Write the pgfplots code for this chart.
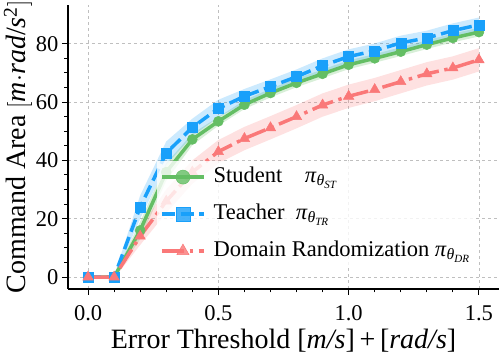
\documentclass[border=0pt]{standalone}
\usepackage{fontspec}
\setmainfont{Liberation Serif}
\usepackage{pgfplots}
\pgfplotsset{compat=1.18}
\usepgfplotslibrary{fillbetween}

\definecolor{cgreen}{RGB}{100,190,100}
\definecolor{cblue}{RGB}{25,160,250}
\definecolor{cred}{RGB}{250,120,120}

\begin{document}
\begin{tikzpicture}
\begin{axis}[
  scale only axis, width=431pt, height=284pt,
  xmin=-0.077, xmax=1.577, ymin=-4.1, ymax=93.3,
  axis lines=left, axis line style={-, line width=1.6pt},
  tick align=outside,
  xtick={0,0.5,1,1.5}, minor x tick num=4,
  ytick={0,20,40,60,80}, minor y tick num=3,
  major tick length=6pt, minor tick length=3.5pt,
  tick style={black, line width=1pt},
  grid=major, major grid style={dashed, gray!50, line width=0.6pt},
  /pgf/number format/assume math mode=true,
  ticklabel style={font=\fontsize{22.5}{24}\selectfont},
  xticklabel style={yshift=-7pt, /pgf/number format/.cd, fixed, fixed zerofill, precision=1},
  label style={font=\fontsize{28}{30}\selectfont},
  xlabel={Error Threshold [\textit{m/s}]\,+\,[\textit{rad/s}]},
  xlabel style={at={(rel axis cs:0.5,0)}, anchor=center, yshift=-52pt},
  ylabel={Command Area $\big[$\textit{m}$\cdot$\textit{rad}/\textit{s}\textsuperscript{2}$\big]$},
  ylabel style={at={(rel axis cs:0,0.5)}, anchor=center, rotate=0, yshift=50pt},
  legend cell align=left,
  legend image code/.code={\draw[mark repeat=2, mark phase=2, #1] plot coordinates {(0pt,0pt) (21pt,0pt) (42pt,0pt)};},
  legend image post style={mark size=7pt},
  legend style={at={(rel axis cs:0.2065,0.451)}, anchor=north west, draw=none,
    fill=white, fill opacity=0.8, text opacity=1,
    font=\fontsize{22.5}{26}\selectfont, row sep=11pt, column sep=6pt, inner sep=3pt,
    nodes={text height=16pt, text depth=6pt, inner sep=2pt}},
]
\coordinate (O) at (rel axis cs:0,0);
\coordinate (T) at (rel axis cs:1,1);

% bands (mean +/- spread)
\addplot[name path=su, draw=none, forget plot] coordinates {(0,0.5) (0.1,0.5) (0.2,19) (0.3,39) (0.4,49.2) (0.5,54.9) (0.6,60.6) (0.7,64.6) (0.8,68.1) (0.9,71.2) (1.0,74.3) (1.1,76.5) (1.2,78.8) (1.3,81.2) (1.4,83.5) (1.5,85.5)};
\addplot[name path=sl, draw=none, forget plot] coordinates {(0,-0.5) (0.1,-0.5) (0.2,13) (0.3,33) (0.4,45.2) (0.5,51.9) (0.6,57.6) (0.7,61.6) (0.8,65.1) (0.9,68.2) (1.0,71.3) (1.1,73.5) (1.2,75.8) (1.3,78.2) (1.4,80.5) (1.5,82.5)};
\addplot[cgreen, fill opacity=0.25, draw=none, forget plot] fill between[of=su and sl];

\addplot[name path=tu, draw=none, forget plot] coordinates {(0,0.5) (0.1,0.5) (0.2,28) (0.3,46.5) (0.4,54.3) (0.5,60.8) (0.6,64.5) (0.7,67.8) (0.8,71.2) (0.9,75) (1.0,78.1) (1.1,80.1) (1.2,82.8) (1.3,84.5) (1.4,87) (1.5,89)};
\addplot[name path=tl, draw=none, forget plot] coordinates {(0,-0.5) (0.1,-0.5) (0.2,20) (0.3,38.5) (0.4,48.3) (0.5,54.8) (0.6,59.5) (0.7,62.8) (0.8,66.2) (0.9,70) (1.0,73.1) (1.1,75.1) (1.2,77.8) (1.3,79.5) (1.4,82) (1.5,84)};
\addplot[cblue, fill opacity=0.22, draw=none, forget plot] fill between[of=tu and tl];

\addplot[name path=ru, draw=none, forget plot] coordinates {(0,0.5) (0.1,0.5) (0.2,17) (0.3,30) (0.4,40) (0.5,47) (0.6,51.5) (0.7,55.2) (0.8,59) (0.9,63) (1.0,66) (1.1,68.3) (1.2,71) (1.3,73.7) (1.4,75.7) (1.5,78.5)};
\addplot[name path=rl, draw=none, forget plot] coordinates {(0,-0.5) (0.1,-0.5) (0.2,11) (0.3,22) (0.4,32) (0.5,39) (0.6,43.5) (0.7,47.2) (0.8,51) (0.9,55) (1.0,58) (1.1,60.3) (1.2,63) (1.3,65.7) (1.4,67.7) (1.5,70.5)};
\addplot[cred, fill opacity=0.22, draw=none, forget plot] fill between[of=ru and rl];

% means
\addplot[cgreen, line width=3.5pt, mark=*, mark size=5pt, mark options={solid, line width=0.5pt}]
  coordinates {(0,0) (0.1,0) (0.2,16) (0.3,36) (0.4,47.2) (0.5,53.4) (0.6,59.1) (0.7,63.1) (0.8,66.6) (0.9,69.7) (1.0,72.8) (1.1,75) (1.2,77.3) (1.3,79.7) (1.4,82) (1.5,84)};
\addlegendentry{Student\quad\textit{π}\textsubscript{\textit{θ}\textsubscript{\textit{ST}}}}
\addplot[cblue, line width=3.5pt, dash pattern=on 13pt off 5.6pt, mark=square*, mark size=5pt, mark options={solid, line width=0.5pt}]
  coordinates {(0,0) (0.1,0) (0.2,24) (0.3,42.5) (0.4,51.3) (0.5,57.8) (0.6,62) (0.7,65.3) (0.8,68.7) (0.9,72.5) (1.0,75.6) (1.1,77.6) (1.2,80.3) (1.3,82) (1.4,84.5) (1.5,86.5)};
\addlegendentry{Teacher\enspace\textit{π}\textsubscript{\textit{θ}\textsubscript{\textit{TR}}}}
\addplot[cred, line width=3.5pt, dash pattern=on 22pt off 5.6pt on 3.5pt off 5.6pt, mark=triangle*, mark size=6pt, mark options={solid, line width=0.5pt}]
  coordinates {(0,0) (0.1,0) (0.2,14) (0.3,26) (0.4,36) (0.5,43) (0.6,47.5) (0.7,51.2) (0.8,55) (0.9,59) (1.0,62) (1.1,64.3) (1.2,67) (1.3,69.7) (1.4,71.7) (1.5,74.5)};
\addlegendentry{Domain Randomization \textit{π}\textsubscript{\textit{θ}\textsubscript{\textit{DR}}}}
\end{axis}
\pgfresetboundingbox
\path[use as bounding box] ([shift={(-68pt,-67pt)}]O) rectangle ([shift={(0pt,5pt)}]T);
\end{tikzpicture}
\end{document}
